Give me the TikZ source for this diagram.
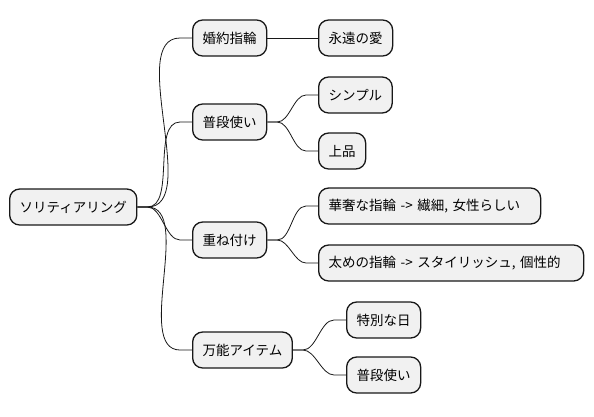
\documentclass[tikz,border=0pt]{standalone}
\usepackage{fontspec}
\setmainfont{Noto Sans CJK JP}
\usepackage{tikz}
\usetikzlibrary{calc}

\definecolor{boxfill}{HTML}{F1F1F1}
\definecolor{boxline}{HTML}{181818}

\newcommand{\branch}[2]{\draw[link] (#1.east) -- ++(10,0) to[out=0,in=180,looseness=0.8] ($(#2.west)+(-12,0)$) -- (#2.west);}

\begin{document}
\begin{tikzpicture}[x=1pt,y=-1pt]
  \tikzstyle{topic}=[draw=boxline,fill=boxfill,line width=1.3pt,rounded corners=10pt,minimum height=36pt,inner xsep=10pt,anchor=west,font=\fontsize{13.5pt}{16pt}\selectfont]
  \tikzstyle{link}=[draw=boxline,line width=0.8pt]
  \useasboundingbox (0,0) rectangle (594,416);

  % root
  \node[topic] (ring) at (9,207) {ソリティアリング};

  % first level
  \node[topic] (engage) at (192,38) {婚約指輪};
  \node[topic] (daily) at (192,122) {普段使い};
  \node[topic] (layer) at (192,240) {重ね付け};
  \node[topic] (allround) at (192,350) {万能アイテム};

  % second level
  \node[topic] (love) at (318,38) {永遠の愛};
  \node[topic] (simple) at (318,95) {シンプル};
  \node[topic] (elegant) at (318,151) {上品};
  \node[topic,text width=202pt] (thin) at (318,206) {華奢な指輪 -> 繊細, 女性らしい};
  \node[topic,text width=245pt] (thick) at (318,263) {太めの指輪 -> スタイリッシュ, 個性的};
  \node[topic] (special) at (346,320) {特別な日};
  \node[topic] (everyday) at (346,375) {普段使い};

  \branch{ring}{engage}
  \branch{ring}{daily}
  \branch{ring}{layer}
  \branch{ring}{allround}
  \draw[link] (engage) -- (love);
  \branch{daily}{simple}
  \branch{daily}{elegant}
  \branch{layer}{thin}
  \branch{layer}{thick}
  \branch{allround}{special}
  \branch{allround}{everyday}
\end{tikzpicture}
\end{document}
